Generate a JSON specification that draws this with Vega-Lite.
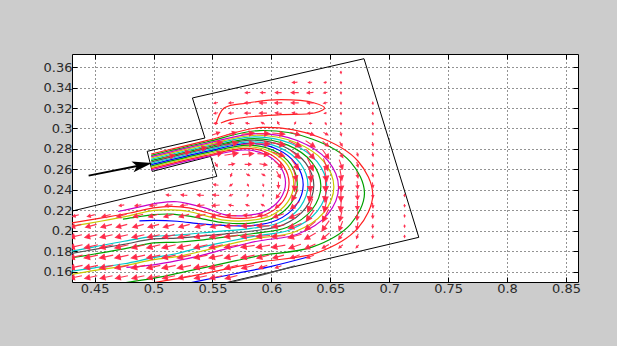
{
"$schema":"https://vega.github.io/schema/vega-lite/v6.json",
"width":506,"height":228,
"autosize":{"type":"none"},
"padding":{"left":72,"top":54,"right":39,"bottom":64},
"background":"#cccccc",
"config":{"view":{"fill":"#ffffff","stroke":"#000000","strokeWidth":1}},
"datasets":{
"walls":[
{"id":"box","p":0,"x":0.533,"y":0.3298},{"id":"box","p":1,"x":0.6786,"y":0.3681},{"id":"box","p":2,"x":0.7251,"y":0.1938},{"id":"box","p":3,"x":0.556,"y":0.148},
{"id":"inlet","p":0,"x":0.533,"y":0.3298},{"id":"inlet","p":1,"x":0.5436,"y":0.2907},{"id":"inlet","p":2,"x":0.4946,"y":0.2777},{"id":"inlet","p":3,"x":0.4989,"y":0.2581},{"id":"inlet","p":4,"x":0.5484,"y":0.2728},{"id":"inlet","p":5,"x":0.5537,"y":0.2533},{"id":"inlet","p":6,"x":0.4308,"y":0.2194}
],
"stream":[
{"id":"s0","p":0,"x":0.498,"y":0.2595},{"id":"s0","p":1,"x":0.545,"y":0.2725},{"id":"s0","p":2,"x":0.578,"y":0.279},{"id":"s0","p":3,"x":0.595,"y":0.2747},{"id":"s0","p":4,"x":0.6074,"y":0.263},{"id":"s0","p":5,"x":0.612,"y":0.247},{"id":"s0","p":6,"x":0.6074,"y":0.231},{"id":"s0","p":7,"x":0.595,"y":0.2193},{"id":"s0","p":8,"x":0.578,"y":0.215},{"id":"s0","p":9,"x":0.56,"y":0.216},{"id":"s0","p":10,"x":0.545,"y":0.222},{"id":"s0","p":11,"x":0.53,"y":0.2265},{"id":"s0","p":12,"x":0.52,"y":0.2285},{"id":"s0","p":13,"x":0.505,"y":0.2275},{"id":"s0","p":14,"x":0.49,"y":0.224},{"id":"s0","p":15,"x":0.47,"y":0.219},
{"id":"s1","p":0,"x":0.498,"y":0.2608},{"id":"s1","p":1,"x":0.545,"y":0.2738},{"id":"s1","p":2,"x":0.579,"y":0.2806},{"id":"s1","p":3,"x":0.597,"y":0.2761},{"id":"s1","p":4,"x":0.6102,"y":0.2636},{"id":"s1","p":5,"x":0.615,"y":0.2466},{"id":"s1","p":6,"x":0.6102,"y":0.2295},{"id":"s1","p":7,"x":0.597,"y":0.217},{"id":"s1","p":8,"x":0.579,"y":0.2125},{"id":"s1","p":9,"x":0.56,"y":0.2135},{"id":"s1","p":10,"x":0.545,"y":0.218},{"id":"s1","p":11,"x":0.53,"y":0.2225},{"id":"s1","p":12,"x":0.515,"y":0.224},{"id":"s1","p":13,"x":0.5,"y":0.2225},{"id":"s1","p":14,"x":0.48,"y":0.2175},{"id":"s1","p":15,"x":0.455,"y":0.2125},{"id":"s1","p":16,"x":0.43,"y":0.2078},
{"id":"s2","p":0,"x":0.498,"y":0.2621},{"id":"s2","p":1,"x":0.545,"y":0.2751},{"id":"s2","p":2,"x":0.58,"y":0.2822},{"id":"s2","p":3,"x":0.5995,"y":0.2774},{"id":"s2","p":4,"x":0.6138,"y":0.2642},{"id":"s2","p":5,"x":0.619,"y":0.2461},{"id":"s2","p":6,"x":0.6138,"y":0.2281},{"id":"s2","p":7,"x":0.5995,"y":0.2148},{"id":"s2","p":8,"x":0.58,"y":0.21},{"id":"s2","p":9,"x":0.56,"y":0.2105},{"id":"s2","p":10,"x":0.545,"y":0.2145},{"id":"s2","p":11,"x":0.53,"y":0.219},{"id":"s2","p":12,"x":0.515,"y":0.2205},{"id":"s2","p":13,"x":0.5,"y":0.2201},{"id":"s2","p":14,"x":0.48,"y":0.215},{"id":"s2","p":15,"x":0.455,"y":0.2095},{"id":"s2","p":16,"x":0.43,"y":0.2045},
{"id":"s3","p":0,"x":0.498,"y":0.2634},{"id":"s3","p":1,"x":0.545,"y":0.2764},{"id":"s3","p":2,"x":0.581,"y":0.2838},{"id":"s3","p":3,"x":0.6015,"y":0.2787},{"id":"s3","p":4,"x":0.6165,"y":0.2647},{"id":"s3","p":5,"x":0.622,"y":0.2457},{"id":"s3","p":6,"x":0.6165,"y":0.2266},{"id":"s3","p":7,"x":0.6015,"y":0.2126},{"id":"s3","p":8,"x":0.581,"y":0.2075},{"id":"s3","p":9,"x":0.56,"y":0.208},{"id":"s3","p":10,"x":0.545,"y":0.211},{"id":"s3","p":11,"x":0.53,"y":0.2145},{"id":"s3","p":12,"x":0.515,"y":0.2165},{"id":"s3","p":13,"x":0.5,"y":0.2159},{"id":"s3","p":14,"x":0.485,"y":0.2135},{"id":"s3","p":15,"x":0.474,"y":0.2115},
{"id":"s4","p":0,"x":0.498,"y":0.2647},{"id":"s4","p":1,"x":0.545,"y":0.2777},{"id":"s4","p":2,"x":0.582,"y":0.2854},{"id":"s4","p":3,"x":0.6045,"y":0.28},{"id":"s4","p":4,"x":0.621,"y":0.2653},{"id":"s4","p":5,"x":0.627,"y":0.2452},{"id":"s4","p":6,"x":0.621,"y":0.2251},{"id":"s4","p":7,"x":0.6045,"y":0.2104},{"id":"s4","p":8,"x":0.582,"y":0.205},{"id":"s4","p":9,"x":0.56,"y":0.2055},{"id":"s4","p":10,"x":0.54,"y":0.207},{"id":"s4","p":11,"x":0.52,"y":0.2095},{"id":"s4","p":12,"x":0.5,"y":0.2103},{"id":"s4","p":13,"x":0.488,"y":0.2098},
{"id":"s5","p":0,"x":0.498,"y":0.266},{"id":"s5","p":1,"x":0.545,"y":0.279},{"id":"s5","p":2,"x":0.583,"y":0.287},{"id":"s5","p":3,"x":0.607,"y":0.2813},{"id":"s5","p":4,"x":0.6246,"y":0.2659},{"id":"s5","p":5,"x":0.631,"y":0.2448},{"id":"s5","p":6,"x":0.6246,"y":0.2236},{"id":"s5","p":7,"x":0.607,"y":0.2082},{"id":"s5","p":8,"x":0.583,"y":0.2025},{"id":"s5","p":9,"x":0.56,"y":0.2},{"id":"s5","p":10,"x":0.54,"y":0.198},{"id":"s5","p":11,"x":0.52,"y":0.196},{"id":"s5","p":12,"x":0.5,"y":0.1947},{"id":"s5","p":13,"x":0.475,"y":0.19},{"id":"s5","p":14,"x":0.45,"y":0.1845},{"id":"s5","p":15,"x":0.43,"y":0.1801},
{"id":"s6","p":0,"x":0.498,"y":0.2673},{"id":"s6","p":1,"x":0.545,"y":0.2803},{"id":"s6","p":2,"x":0.584,"y":0.2886},{"id":"s6","p":3,"x":0.61,"y":0.2827},{"id":"s6","p":4,"x":0.629,"y":0.2665},{"id":"s6","p":5,"x":0.636,"y":0.2443},{"id":"s6","p":6,"x":0.629,"y":0.2222},{"id":"s6","p":7,"x":0.61,"y":0.2059},{"id":"s6","p":8,"x":0.584,"y":0.2},{"id":"s6","p":9,"x":0.56,"y":0.197},{"id":"s6","p":10,"x":0.54,"y":0.195},{"id":"s6","p":11,"x":0.52,"y":0.193},{"id":"s6","p":12,"x":0.5,"y":0.1922},{"id":"s6","p":13,"x":0.475,"y":0.187},{"id":"s6","p":14,"x":0.45,"y":0.182},{"id":"s6","p":15,"x":0.43,"y":0.178},
{"id":"s7","p":0,"x":0.498,"y":0.2686},{"id":"s7","p":1,"x":0.545,"y":0.2816},{"id":"s7","p":2,"x":0.585,"y":0.2902},{"id":"s7","p":3,"x":0.6135,"y":0.284},{"id":"s7","p":4,"x":0.6344,"y":0.267},{"id":"s7","p":5,"x":0.642,"y":0.2439},{"id":"s7","p":6,"x":0.6344,"y":0.2207},{"id":"s7","p":7,"x":0.6135,"y":0.2037},{"id":"s7","p":8,"x":0.585,"y":0.1975},{"id":"s7","p":9,"x":0.56,"y":0.194},{"id":"s7","p":10,"x":0.54,"y":0.191},{"id":"s7","p":11,"x":0.52,"y":0.189},{"id":"s7","p":12,"x":0.5,"y":0.1883},{"id":"s7","p":13,"x":0.475,"y":0.1825},{"id":"s7","p":14,"x":0.45,"y":0.1775},{"id":"s7","p":15,"x":0.43,"y":0.1737},
{"id":"s8","p":0,"x":0.498,"y":0.2699},{"id":"s8","p":1,"x":0.545,"y":0.2829},{"id":"s8","p":2,"x":0.586,"y":0.2918},{"id":"s8","p":3,"x":0.6165,"y":0.2853},{"id":"s8","p":4,"x":0.6388,"y":0.2676},{"id":"s8","p":5,"x":0.647,"y":0.2434},{"id":"s8","p":6,"x":0.6388,"y":0.2192},{"id":"s8","p":7,"x":0.6165,"y":0.2015},{"id":"s8","p":8,"x":0.586,"y":0.195},{"id":"s8","p":9,"x":0.56,"y":0.189},{"id":"s8","p":10,"x":0.54,"y":0.184},{"id":"s8","p":11,"x":0.52,"y":0.178},{"id":"s8","p":12,"x":0.5,"y":0.174},{"id":"s8","p":13,"x":0.475,"y":0.168},{"id":"s8","p":14,"x":0.45,"y":0.164},{"id":"s8","p":15,"x":0.43,"y":0.1606},
{"id":"s9","p":0,"x":0.498,"y":0.2712},{"id":"s9","p":1,"x":0.545,"y":0.2842},{"id":"s9","p":2,"x":0.587,"y":0.2934},{"id":"s9","p":3,"x":0.62,"y":0.2866},{"id":"s9","p":4,"x":0.6442,"y":0.2682},{"id":"s9","p":5,"x":0.653,"y":0.243},{"id":"s9","p":6,"x":0.6442,"y":0.2177},{"id":"s9","p":7,"x":0.62,"y":0.1993},{"id":"s9","p":8,"x":0.587,"y":0.1925},{"id":"s9","p":9,"x":0.56,"y":0.186},{"id":"s9","p":10,"x":0.54,"y":0.18},{"id":"s9","p":11,"x":0.52,"y":0.175},{"id":"s9","p":12,"x":0.5,"y":0.172},{"id":"s9","p":13,"x":0.475,"y":0.166},{"id":"s9","p":14,"x":0.45,"y":0.1615},{"id":"s9","p":15,"x":0.43,"y":0.1574},
{"id":"s10","p":0,"x":0.498,"y":0.2725},{"id":"s10","p":1,"x":0.545,"y":0.2855},{"id":"s10","p":2,"x":0.588,"y":0.295},{"id":"s10","p":3,"x":0.6225,"y":0.288},{"id":"s10","p":4,"x":0.6478,"y":0.2688},{"id":"s10","p":5,"x":0.657,"y":0.2425},{"id":"s10","p":6,"x":0.6478,"y":0.2163},{"id":"s10","p":7,"x":0.6225,"y":0.197},{"id":"s10","p":8,"x":0.588,"y":0.19},{"id":"s10","p":9,"x":0.56,"y":0.182},{"id":"s10","p":10,"x":0.54,"y":0.176},{"id":"s10","p":11,"x":0.52,"y":0.171},{"id":"s10","p":12,"x":0.5,"y":0.167},{"id":"s10","p":13,"x":0.477,"y":0.1645},
{"id":"s11","p":0,"x":0.498,"y":0.2738},{"id":"s11","p":1,"x":0.545,"y":0.2868},{"id":"s11","p":2,"x":0.59,"y":0.298},{"id":"s11","p":3,"x":0.6345,"y":0.2898},{"id":"s11","p":4,"x":0.6671,"y":0.2675},{"id":"s11","p":5,"x":0.679,"y":0.237},{"id":"s11","p":6,"x":0.6671,"y":0.2065},{"id":"s11","p":7,"x":0.6345,"y":0.1842},{"id":"s11","p":8,"x":0.59,"y":0.176},{"id":"s11","p":9,"x":0.57,"y":0.171},{"id":"s11","p":10,"x":0.55,"y":0.166},{"id":"s11","p":11,"x":0.53,"y":0.161},{"id":"s11","p":12,"x":0.51,"y":0.156},{"id":"s11","p":13,"x":0.49,"y":0.152},{"id":"s11","p":14,"x":0.47,"y":0.1485},
{"id":"s12","p":0,"x":0.498,"y":0.2751},{"id":"s12","p":1,"x":0.545,"y":0.2881},{"id":"s12","p":2,"x":0.592,"y":0.301},{"id":"s12","p":3,"x":0.639,"y":0.2922},{"id":"s12","p":4,"x":0.6734,"y":0.2683},{"id":"s12","p":5,"x":0.686,"y":0.2355},{"id":"s12","p":6,"x":0.6734,"y":0.2028},{"id":"s12","p":7,"x":0.639,"y":0.1788},{"id":"s12","p":8,"x":0.592,"y":0.17},{"id":"s12","p":9,"x":0.57,"y":0.165},{"id":"s12","p":10,"x":0.55,"y":0.16},{"id":"s12","p":11,"x":0.53,"y":0.1555},{"id":"s12","p":12,"x":0.51,"y":0.1515},{"id":"s12","p":13,"x":0.49,"y":0.1475},
{"id":"s13","p":0,"x":0.631,"y":0.1746},{"id":"s13","p":1,"x":0.6,"y":0.1655},{"id":"s13","p":2,"x":0.57,"y":0.1585},{"id":"s13","p":3,"x":0.54,"y":0.1515},{"id":"s13","p":4,"x":0.525,"y":0.148},
{"id":"s14","p":0,"x":0.56,"y":0.1485},{"id":"s14","p":1,"x":0.59,"y":0.1565},{"id":"s14","p":2,"x":0.62,"y":0.166},
{"id":"s15","p":0,"x":0.5528,"y":0.3037},{"id":"s15","p":1,"x":0.5599,"y":0.32},{"id":"s15","p":2,"x":0.5798,"y":0.3249},{"id":"s15","p":3,"x":0.6082,"y":0.3281},{"id":"s15","p":4,"x":0.6365,"y":0.3249},{"id":"s15","p":5,"x":0.6451,"y":0.32},{"id":"s15","p":6,"x":0.6365,"y":0.3151},{"id":"s15","p":7,"x":0.6082,"y":0.3135},{"id":"s15","p":8,"x":0.5798,"y":0.3112},{"id":"s15","p":9,"x":0.5656,"y":0.3086},{"id":"s15","p":10,"x":0.5571,"y":0.3054}
],
"quiver":[
{"x":0.434,"y":0.155,"d":192,"m":0.01},{"x":0.434,"y":0.165,"d":192,"m":0.011},{"x":0.434,"y":0.175,"d":192,"m":0.011},{"x":0.434,"y":0.185,"d":193,"m":0.011},{"x":0.434,"y":0.195,"d":193,"m":0.01},{"x":0.434,"y":0.205,"d":195,"m":0.009},{"x":0.434,"y":0.215,"d":195,"m":0.005},
{"x":0.447,"y":0.155,"d":192,"m":0.01},{"x":0.447,"y":0.165,"d":192,"m":0.011},{"x":0.447,"y":0.175,"d":192,"m":0.011},{"x":0.447,"y":0.185,"d":193,"m":0.011},{"x":0.447,"y":0.195,"d":193,"m":0.01},{"x":0.447,"y":0.205,"d":195,"m":0.009},{"x":0.447,"y":0.215,"d":195,"m":0.006},
{"x":0.46,"y":0.155,"d":192,"m":0.01},{"x":0.46,"y":0.165,"d":192,"m":0.011},{"x":0.46,"y":0.175,"d":192,"m":0.011},{"x":0.46,"y":0.185,"d":193,"m":0.011},{"x":0.46,"y":0.195,"d":193,"m":0.01},{"x":0.46,"y":0.205,"d":195,"m":0.009},{"x":0.46,"y":0.215,"d":195,"m":0.007},
{"x":0.473,"y":0.155,"d":192,"m":0.01},{"x":0.473,"y":0.165,"d":192,"m":0.011},{"x":0.473,"y":0.175,"d":192,"m":0.011},{"x":0.473,"y":0.185,"d":193,"m":0.011},{"x":0.473,"y":0.195,"d":193,"m":0.01},{"x":0.473,"y":0.205,"d":195,"m":0.009},{"x":0.473,"y":0.215,"d":195,"m":0.008},{"x":0.473,"y":0.225,"d":190,"m":0.004},
{"x":0.487,"y":0.155,"d":192,"m":0.01},{"x":0.487,"y":0.165,"d":192,"m":0.011},{"x":0.487,"y":0.175,"d":192,"m":0.011},{"x":0.487,"y":0.185,"d":193,"m":0.011},{"x":0.487,"y":0.195,"d":193,"m":0.01},{"x":0.487,"y":0.205,"d":195,"m":0.009},{"x":0.487,"y":0.215,"d":195,"m":0.008},{"x":0.487,"y":0.225,"d":190,"m":0.005},
{"x":0.5,"y":0.155,"d":192,"m":0.01},{"x":0.5,"y":0.165,"d":192,"m":0.011},{"x":0.5,"y":0.175,"d":192,"m":0.011},{"x":0.5,"y":0.185,"d":193,"m":0.011},{"x":0.5,"y":0.195,"d":193,"m":0.01},{"x":0.5,"y":0.205,"d":195,"m":0.009},{"x":0.5,"y":0.215,"d":195,"m":0.008},{"x":0.5,"y":0.225,"d":190,"m":0.006},
{"x":0.513,"y":0.155,"d":192,"m":0.01},{"x":0.513,"y":0.165,"d":192,"m":0.011},{"x":0.513,"y":0.175,"d":192,"m":0.011},{"x":0.513,"y":0.185,"d":193,"m":0.011},{"x":0.513,"y":0.195,"d":193,"m":0.01},{"x":0.513,"y":0.205,"d":195,"m":0.009},{"x":0.513,"y":0.215,"d":195,"m":0.008},{"x":0.513,"y":0.225,"d":190,"m":0.006},{"x":0.513,"y":0.235,"d":175,"m":0.004},
{"x":0.526,"y":0.155,"d":192,"m":0.01},{"x":0.526,"y":0.165,"d":192,"m":0.011},{"x":0.526,"y":0.175,"d":192,"m":0.011},{"x":0.526,"y":0.185,"d":193,"m":0.011},{"x":0.526,"y":0.195,"d":193,"m":0.01},{"x":0.526,"y":0.205,"d":195,"m":0.009},{"x":0.526,"y":0.215,"d":195,"m":0.008},{"x":0.526,"y":0.225,"d":190,"m":0.006},{"x":0.526,"y":0.235,"d":175,"m":0.005},
{"x":0.54,"y":0.155,"d":192,"m":0.01},{"x":0.54,"y":0.165,"d":192,"m":0.011},{"x":0.54,"y":0.175,"d":192,"m":0.011},{"x":0.54,"y":0.185,"d":193,"m":0.011},{"x":0.54,"y":0.195,"d":193,"m":0.01},{"x":0.54,"y":0.205,"d":195,"m":0.009},{"x":0.54,"y":0.215,"d":195,"m":0.008},{"x":0.54,"y":0.225,"d":185,"m":0.006},{"x":0.54,"y":0.235,"d":175,"m":0.005},
{"x":0.553,"y":0.155,"d":192,"m":0.01},{"x":0.553,"y":0.165,"d":192,"m":0.011},{"x":0.553,"y":0.175,"d":192,"m":0.011},{"x":0.553,"y":0.185,"d":193,"m":0.011},{"x":0.553,"y":0.195,"d":193,"m":0.01},{"x":0.553,"y":0.205,"d":195,"m":0.009},{"x":0.553,"y":0.215,"d":195,"m":0.008},{"x":0.553,"y":0.225,"d":185,"m":0.006},{"x":0.553,"y":0.235,"d":175,"m":0.005},{"x":0.553,"y":0.245,"d":170,"m":0.004},
{"x":0.553,"y":0.265,"d":300,"m":0.004},{"x":0.553,"y":0.275,"d":15,"m":0.011},{"x":0.553,"y":0.285,"d":15,"m":0.011},{"x":0.553,"y":0.295,"d":20,"m":0.006},{"x":0.553,"y":0.305,"d":180,"m":0.003},{"x":0.553,"y":0.315,"d":190,"m":0.003},{"x":0.553,"y":0.325,"d":190,"m":0.003},
{"x":0.566,"y":0.155,"d":195,"m":0.01},{"x":0.566,"y":0.165,"d":195,"m":0.011},{"x":0.566,"y":0.175,"d":193,"m":0.011},{"x":0.566,"y":0.185,"d":190,"m":0.011},{"x":0.566,"y":0.195,"d":188,"m":0.011},{"x":0.566,"y":0.205,"d":185,"m":0.01},{"x":0.566,"y":0.215,"d":180,"m":0.008},{"x":0.566,"y":0.225,"d":170,"m":0.004},{"x":0.566,"y":0.235,"d":200,"m":0.003},{"x":0.566,"y":0.245,"d":220,"m":0.003},{"x":0.566,"y":0.255,"d":250,"m":0.003},{"x":0.566,"y":0.265,"d":10,"m":0.005},{"x":0.566,"y":0.275,"d":10,"m":0.011},{"x":0.566,"y":0.285,"d":12,"m":0.011},{"x":0.566,"y":0.295,"d":15,"m":0.008},{"x":0.566,"y":0.305,"d":180,"m":0.004},{"x":0.566,"y":0.315,"d":185,"m":0.004},{"x":0.566,"y":0.325,"d":185,"m":0.004},
{"x":0.58,"y":0.165,"d":195,"m":0.01},{"x":0.58,"y":0.175,"d":192,"m":0.011},{"x":0.58,"y":0.185,"d":188,"m":0.011},{"x":0.58,"y":0.195,"d":185,"m":0.011},{"x":0.58,"y":0.205,"d":182,"m":0.01},{"x":0.58,"y":0.215,"d":175,"m":0.007},{"x":0.58,"y":0.225,"d":160,"m":0.003},{"x":0.58,"y":0.235,"d":240,"m":0.002},{"x":0.58,"y":0.245,"d":300,"m":0.002},{"x":0.58,"y":0.255,"d":330,"m":0.003},{"x":0.58,"y":0.265,"d":0,"m":0.005},{"x":0.58,"y":0.275,"d":5,"m":0.009},{"x":0.58,"y":0.285,"d":5,"m":0.011},{"x":0.58,"y":0.295,"d":5,"m":0.01},{"x":0.58,"y":0.305,"d":170,"m":0.003},{"x":0.58,"y":0.315,"d":180,"m":0.005},{"x":0.58,"y":0.325,"d":180,"m":0.005},{"x":0.58,"y":0.335,"d":185,"m":0.004},
{"x":0.593,"y":0.165,"d":200,"m":0.007},{"x":0.593,"y":0.175,"d":195,"m":0.01},{"x":0.593,"y":0.185,"d":190,"m":0.011},{"x":0.593,"y":0.195,"d":185,"m":0.011},{"x":0.593,"y":0.205,"d":180,"m":0.01},{"x":0.593,"y":0.215,"d":175,"m":0.008},{"x":0.593,"y":0.225,"d":150,"m":0.003},{"x":0.593,"y":0.235,"d":270,"m":0.002},{"x":0.593,"y":0.245,"d":290,"m":0.002},{"x":0.593,"y":0.255,"d":330,"m":0.003},{"x":0.593,"y":0.265,"d":350,"m":0.006},{"x":0.593,"y":0.275,"d":355,"m":0.009},{"x":0.593,"y":0.285,"d":0,"m":0.011},{"x":0.593,"y":0.295,"d":0,"m":0.01},{"x":0.593,"y":0.305,"d":150,"m":0.003},{"x":0.593,"y":0.315,"d":180,"m":0.006},{"x":0.593,"y":0.325,"d":180,"m":0.006},{"x":0.593,"y":0.335,"d":180,"m":0.004},
{"x":0.606,"y":0.165,"d":200,"m":0.005},{"x":0.606,"y":0.175,"d":195,"m":0.009},{"x":0.606,"y":0.185,"d":190,"m":0.011},{"x":0.606,"y":0.195,"d":185,"m":0.011},{"x":0.606,"y":0.205,"d":190,"m":0.01},{"x":0.606,"y":0.215,"d":200,"m":0.009},{"x":0.606,"y":0.225,"d":220,"m":0.006},{"x":0.606,"y":0.235,"d":235,"m":0.006},{"x":0.606,"y":0.245,"d":270,"m":0.005},{"x":0.606,"y":0.255,"d":300,"m":0.006},{"x":0.606,"y":0.265,"d":320,"m":0.008},{"x":0.606,"y":0.275,"d":340,"m":0.01},{"x":0.606,"y":0.285,"d":350,"m":0.011},{"x":0.606,"y":0.295,"d":355,"m":0.01},{"x":0.606,"y":0.305,"d":120,"m":0.003},{"x":0.606,"y":0.315,"d":175,"m":0.005},{"x":0.606,"y":0.325,"d":180,"m":0.006},{"x":0.606,"y":0.335,"d":180,"m":0.005},
{"x":0.62,"y":0.175,"d":200,"m":0.008},{"x":0.62,"y":0.185,"d":200,"m":0.01},{"x":0.62,"y":0.195,"d":195,"m":0.011},{"x":0.62,"y":0.205,"d":200,"m":0.011},{"x":0.62,"y":0.215,"d":205,"m":0.01},{"x":0.62,"y":0.225,"d":220,"m":0.009},{"x":0.62,"y":0.235,"d":240,"m":0.01},{"x":0.62,"y":0.245,"d":265,"m":0.01},{"x":0.62,"y":0.255,"d":285,"m":0.01},{"x":0.62,"y":0.265,"d":305,"m":0.01},{"x":0.62,"y":0.275,"d":320,"m":0.011},{"x":0.62,"y":0.285,"d":335,"m":0.011},{"x":0.62,"y":0.295,"d":345,"m":0.008},{"x":0.62,"y":0.305,"d":60,"m":0.002},{"x":0.62,"y":0.315,"d":170,"m":0.004},{"x":0.62,"y":0.325,"d":180,"m":0.006},{"x":0.62,"y":0.335,"d":180,"m":0.006},{"x":0.62,"y":0.345,"d":185,"m":0.004},
{"x":0.633,"y":0.175,"d":200,"m":0.006},{"x":0.633,"y":0.185,"d":205,"m":0.009},{"x":0.633,"y":0.195,"d":210,"m":0.01},{"x":0.633,"y":0.205,"d":220,"m":0.011},{"x":0.633,"y":0.215,"d":235,"m":0.011},{"x":0.633,"y":0.225,"d":250,"m":0.011},{"x":0.633,"y":0.235,"d":262,"m":0.011},{"x":0.633,"y":0.245,"d":270,"m":0.011},{"x":0.633,"y":0.255,"d":280,"m":0.011},{"x":0.633,"y":0.265,"d":295,"m":0.011},{"x":0.633,"y":0.275,"d":310,"m":0.01},{"x":0.633,"y":0.285,"d":325,"m":0.009},{"x":0.633,"y":0.295,"d":340,"m":0.006},{"x":0.633,"y":0.305,"d":0,"m":0.002},{"x":0.633,"y":0.315,"d":180,"m":0.004},{"x":0.633,"y":0.325,"d":180,"m":0.005},{"x":0.633,"y":0.335,"d":185,"m":0.005},{"x":0.633,"y":0.345,"d":185,"m":0.003},
{"x":0.646,"y":0.185,"d":210,"m":0.006},{"x":0.646,"y":0.195,"d":220,"m":0.008},{"x":0.646,"y":0.205,"d":235,"m":0.01},{"x":0.646,"y":0.215,"d":245,"m":0.011},{"x":0.646,"y":0.225,"d":258,"m":0.011},{"x":0.646,"y":0.235,"d":265,"m":0.011},{"x":0.646,"y":0.245,"d":272,"m":0.011},{"x":0.646,"y":0.255,"d":280,"m":0.011},{"x":0.646,"y":0.265,"d":290,"m":0.01},{"x":0.646,"y":0.275,"d":305,"m":0.009},{"x":0.646,"y":0.285,"d":320,"m":0.006},{"x":0.646,"y":0.295,"d":330,"m":0.004},{"x":0.646,"y":0.305,"d":300,"m":0.002},{"x":0.646,"y":0.315,"d":200,"m":0.002},{"x":0.646,"y":0.325,"d":190,"m":0.003},{"x":0.646,"y":0.335,"d":190,"m":0.003},{"x":0.646,"y":0.345,"d":190,"m":0.002},
{"x":0.659,"y":0.185,"d":220,"m":0.004},{"x":0.659,"y":0.195,"d":235,"m":0.006},{"x":0.659,"y":0.205,"d":250,"m":0.008},{"x":0.659,"y":0.215,"d":258,"m":0.009},{"x":0.659,"y":0.225,"d":265,"m":0.01},{"x":0.659,"y":0.235,"d":270,"m":0.01},{"x":0.659,"y":0.245,"d":275,"m":0.01},{"x":0.659,"y":0.255,"d":280,"m":0.009},{"x":0.659,"y":0.265,"d":290,"m":0.008},{"x":0.659,"y":0.275,"d":300,"m":0.006},{"x":0.659,"y":0.285,"d":300,"m":0.004},{"x":0.659,"y":0.295,"d":280,"m":0.003},{"x":0.659,"y":0.305,"d":275,"m":0.002},{"x":0.659,"y":0.315,"d":275,"m":0.002},{"x":0.659,"y":0.325,"d":275,"m":0.002},{"x":0.659,"y":0.335,"d":275,"m":0.002},{"x":0.659,"y":0.345,"d":275,"m":0.002},{"x":0.659,"y":0.355,"d":275,"m":0.002},
{"x":0.673,"y":0.185,"d":230,"m":0.003},{"x":0.673,"y":0.195,"d":250,"m":0.004},{"x":0.673,"y":0.205,"d":260,"m":0.006},{"x":0.673,"y":0.215,"d":265,"m":0.007},{"x":0.673,"y":0.225,"d":270,"m":0.007},{"x":0.673,"y":0.235,"d":272,"m":0.007},{"x":0.673,"y":0.245,"d":275,"m":0.006},{"x":0.673,"y":0.255,"d":280,"m":0.005},{"x":0.673,"y":0.265,"d":285,"m":0.004},{"x":0.673,"y":0.275,"d":285,"m":0.003},
{"x":0.686,"y":0.195,"d":265,"m":0.003},{"x":0.686,"y":0.205,"d":270,"m":0.003},{"x":0.686,"y":0.215,"d":272,"m":0.004},{"x":0.686,"y":0.225,"d":275,"m":0.004},{"x":0.686,"y":0.235,"d":275,"m":0.004},{"x":0.686,"y":0.245,"d":278,"m":0.004},{"x":0.686,"y":0.255,"d":280,"m":0.003},{"x":0.686,"y":0.265,"d":280,"m":0.003},{"x":0.686,"y":0.275,"d":280,"m":0.003},{"x":0.686,"y":0.285,"d":280,"m":0.003},{"x":0.686,"y":0.295,"d":280,"m":0.002},{"x":0.686,"y":0.305,"d":280,"m":0.002},{"x":0.686,"y":0.315,"d":280,"m":0.002},{"x":0.686,"y":0.325,"d":280,"m":0.002},
{"x":0.713,"y":0.195,"d":275,"m":0.002},{"x":0.713,"y":0.205,"d":275,"m":0.002},{"x":0.713,"y":0.215,"d":275,"m":0.002},{"x":0.713,"y":0.225,"d":275,"m":0.002},{"x":0.713,"y":0.235,"d":275,"m":0.002},
{"x":0.513,"y":0.2725,"d":15,"m":0.01},{"x":0.526,"y":0.276,"d":15,"m":0.01},{"x":0.54,"y":0.28,"d":15,"m":0.01}
],
"shaft":[{"p":0,"x":0.4449,"y":0.254},{"p":1,"x":0.4905,"y":0.2644}],
"head":[{"x":0.4905,"y":0.2644,"d":11.3}]
},
"layer":[
{"data":{"name":"walls"},
 "mark":{"type":"line","color":"#000000","strokeWidth":1,"clip":true},
 "encoding":{
  "x":{"field":"x","type":"quantitative","scale":{"domain":[0.4308,0.8602],"nice":false,"zero":false},
   "axis":{"orient":"bottom","values":[0.45,0.5,0.55,0.6,0.65,0.7,0.75,0.8,0.85],"format":"~g","title":null,"domain":false,"grid":true,"gridColor":"#000000","gridDash":[1,3],"gridOpacity":0.85,"ticks":true,"tickColor":"#000000","tickSize":-5,"labelFont":"DejaVu Sans","labelFontSize":13,"labelColor":"#2a2a2a","labelPadding":5,"labelFlush":false}},
  "y":{"field":"y","type":"quantitative","scale":{"domain":[0.1502,0.3727],"nice":false,"zero":false},
   "axis":{"orient":"left","values":[0.16,0.18,0.2,0.22,0.24,0.26,0.28,0.3,0.32,0.34,0.36],"format":"~g","title":null,"domain":false,"grid":true,"gridColor":"#000000","gridDash":[1,3],"gridOpacity":0.85,"ticks":true,"tickColor":"#000000","tickSize":-5,"labelFont":"DejaVu Sans","labelFontSize":13,"labelColor":"#2a2a2a","labelPadding":5,"labelFlush":false}},
  "detail":{"field":"id"},
  "order":{"field":"p","type":"quantitative"}
 }},
{"data":{"name":"stream"},
 "mark":{"type":"line","strokeWidth":1.2,"interpolate":"catmull-rom","clip":true},
 "encoding":{
  "x":{"field":"x","type":"quantitative","axis":{"orient":"top","values":[0.45,0.5,0.55,0.6,0.65,0.7,0.75,0.8,0.85],"labels":false,"title":null,"domain":false,"grid":false,"tickColor":"#000000","tickSize":-5}},
  "y":{"field":"y","type":"quantitative","axis":{"orient":"right","values":[0.16,0.18,0.2,0.22,0.24,0.26,0.28,0.3,0.32,0.34,0.36],"labels":false,"title":null,"domain":false,"grid":false,"tickColor":"#000000","tickSize":-5}},
  "color":{"field":"id","type":"nominal","legend":null,"scale":{"domain":["s0","s1","s2","s3","s4","s5","s6","s7","s8","s9","s10","s11","s12","s13","s14","s15"],"range":["#c800c8","#ff2020","#c8c800","#00a000","#0000ff","#00c8c8","#505050","#00a000","#00c8c8","#c8c800","#c800c8","#00a000","#ff2020","#0000ff","#505050","#ff2020"]}},
  "detail":{"field":"id"},
  "order":{"field":"p","type":"quantitative"}
 }},
{"data":{"name":"quiver"},
 "mark":{"type":"point","shape":"M-1,0L0.35,0M1,0L0.25,-0.38L0.25,0.38Z","filled":true,"fill":"#ff1a3c","stroke":"#ff2a4a","strokeWidth":1.1,"opacity":0.95,"clip":true},
 "encoding":{
  "x":{"field":"x","type":"quantitative","axis":null},
  "y":{"field":"y","type":"quantitative","axis":null},
  "angle":{"field":"d","type":"quantitative","scale":{"domain":[0,360],"range":[360,0]},"legend":null},
  "size":{"field":"m","type":"quantitative","scale":{"type":"pow","exponent":2,"domain":[0,0.012],"range":[0,230]},"legend":null}
 }},
{"data":{"name":"shaft"},
 "mark":{"type":"line","color":"#000000","strokeWidth":2},
 "encoding":{
  "x":{"field":"x","type":"quantitative","axis":null},
  "y":{"field":"y","type":"quantitative","axis":null},
  "order":{"field":"p","type":"quantitative"}
 }},
{"data":{"name":"head"},
 "mark":{"type":"point","shape":"M1,0L-1,-0.55L-0.55,0L-1,0.55Z","filled":true,"color":"#000000","opacity":1,"size":400},
 "encoding":{
  "x":{"field":"x","type":"quantitative","axis":null},
  "y":{"field":"y","type":"quantitative","axis":null},
  "angle":{"field":"d","type":"quantitative","scale":{"domain":[0,360],"range":[360,0]},"legend":null}
 }}
],
"resolve":{"axis":{"x":"independent","y":"independent"}}
}
